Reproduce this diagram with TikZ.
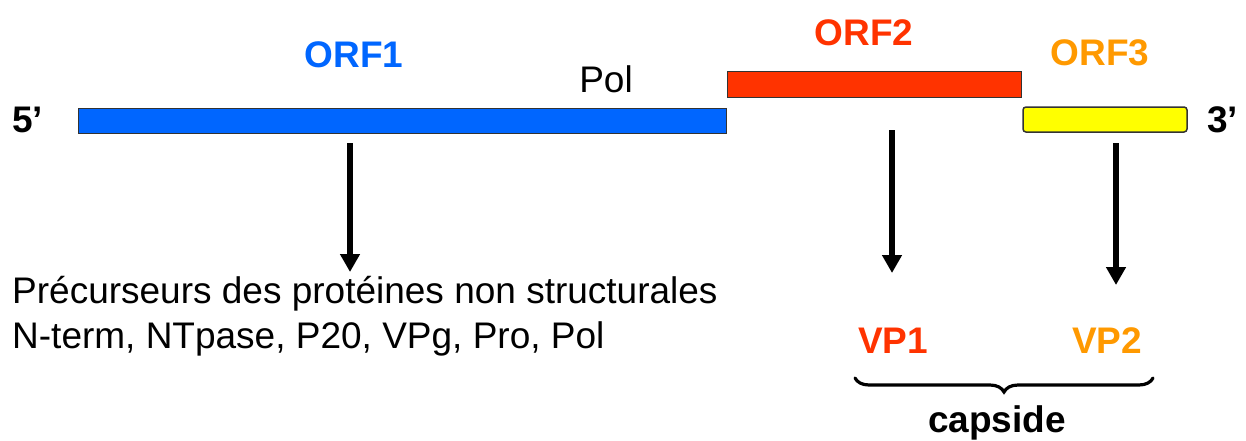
\documentclass[tikz,border=0pt]{standalone}
\usepackage{fontspec}
\setmainfont{Liberation Sans}
\usetikzlibrary{arrows.meta,decorations.pathreplacing}
\definecolor{orfblue}{HTML}{0066FF}
\definecolor{orfred}{HTML}{FF3300}
\definecolor{orforange}{HTML}{FF9900}
\definecolor{orfyellow}{HTML}{FFFF00}
\tikzset{
  lbl/.style={inner sep=0pt,font=\fontsize{37}{44}\selectfont},
  blbl/.style={inner sep=0pt,font=\fontsize{37}{44}\selectfont\bfseries},
  bar/.style={draw=black!80,line width=1pt},
  arr/.style={line width=5.5pt,-{Triangle[width=19pt,length=18pt]}}
}
\begin{document}
\begin{tikzpicture}[x=1pt,y=-1pt]
\useasboundingbox (0,0) rectangle (1246,440);
% bars
\draw[bar,fill=orfblue] (78,108) rectangle (726,133);
\draw[bar,fill=orfred] (727,71) rectangle (1021,97);
\draw[bar,fill=orfyellow,rounded corners=3pt,line width=1.5pt] (1023,107) rectangle (1187,132);
\coordinate (b1) at (350,143);
\coordinate (b2) at (892,130);
\coordinate (b3) at (1116,143);
% labels
\node[blbl,text=orfblue,anchor=base] (orf1) at (354,67) {ORF1};
\node[blbl,text=orfred,anchor=base] (orf2) at (864,45) {ORF2};
\node[blbl,text=orforange,anchor=base] (orf3) at (1100,65) {ORF3};
\node[lbl,anchor=base] (pol) at (606,92) {Pol};
\node[blbl,anchor=base west] (five) at (12,132) {5’};
\node[blbl,anchor=base west] (three) at (1207,132) {3’};
\node[lbl,anchor=base west] (prec1) at (12,303) {Précurseurs des protéines non structurales};
\node[lbl,anchor=base west] (prec2) at (12,348) {N-term, NTpase, P20, VPg, Pro, Pol};
\node[blbl,text=orfred,anchor=base] (vp1) at (893,353) {VP1};
\node[blbl,text=orforange,anchor=base] (vp2) at (1107,353) {VP2};
\node[blbl,anchor=base] (caps) at (997,432) {capside};
% arrows
\coordinate (t1) at (350,272);
\coordinate (t2) at (892,273);
\coordinate (t3) at (1116,285);
\draw[arr] (b1) -- (t1);
\draw[arr] (b2) -- (t2);
\draw[arr] (b3) -- (t3);
% brace
\coordinate (brL) at (855,378);
\coordinate (brR) at (1153,378);
\draw[line width=3.2pt,line cap=round,decorate,decoration={brace,amplitude=14pt,aspect=0.5}] (brR) -- (brL);
\end{tikzpicture}
\end{document}
